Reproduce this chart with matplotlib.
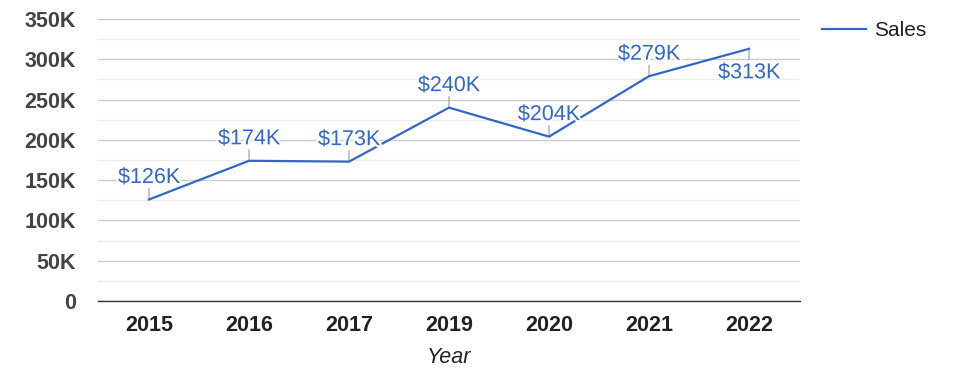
import matplotlib.pyplot as plt
from matplotlib import patheffects as pe
from matplotlib.ticker import FixedLocator

plt.rcParams['font.family'] = ['Liberation Sans', 'DejaVu Sans']

years = ['2015', '2016', '2017', '2019', '2020', '2021', '2022']
sales = [126000, 174000, 173000, 240000, 204000, 279000, 313000]
labels = ['$126K', '$174K', '$173K', '$240K', '$204K', '$279K', '$313K']
label_below = [False, False, False, False, False, False, True]
y_ticks = [0, 50000, 100000, 150000, 200000, 250000, 300000, 350000]
y_tick_labels = ['0', '50K', '100K', '150K', '200K', '250K', '300K', '350K']

blue = '#3366cc'

fig = plt.figure(figsize=(9.75, 3.78), dpi=100)
ax = fig.add_axes([98 / 975, 1 - 301 / 378, 702 / 975, 282 / 378])

x = list(range(len(years)))
ax.plot(x, sales, color=blue, lw=1.6, label='Sales', zorder=3)

# annotations with small stems, like google charts
for xi, yi, txt, below in zip(x, sales, labels, label_below):
    d = -1 if below else 1
    ax.annotate('', xy=(xi, yi), xytext=(0, 11 * d), textcoords='offset pixels',
                arrowprops=dict(arrowstyle='-', color='#999999', lw=0.8,
                                shrinkA=0, shrinkB=0), zorder=2)
    off = -24 if below else 22
    t = ax.annotate(txt, xy=(xi, yi), xytext=(0, off),
                    textcoords='offset pixels', ha='center', va='center',
                    fontsize=15.5, color=blue, zorder=4)
    t.set_path_effects([pe.withStroke(linewidth=3, foreground='white')])

ax.set_xlim(-0.51, 6.51)
ax.set_ylim(0, 350000)
ax.set_xticks(x)
ax.set_xticklabels(years, fontsize=15.5, fontweight='bold', color='#222222')
ax.set_yticks(y_ticks)
ax.set_yticklabels(y_tick_labels, fontsize=15.5, fontweight='bold', color='#444444')
ax.yaxis.set_minor_locator(FixedLocator([25000, 75000, 125000, 175000, 225000, 275000, 325000]))
ax.tick_params(axis='both', which='both', length=0)
ax.tick_params(axis='y', pad=16)
ax.tick_params(axis='x', pad=10)

ax.grid(axis='y', which='major', color='#cccccc', lw=1)
ax.grid(axis='y', which='minor', color='#ebebeb', lw=1)
ax.set_axisbelow(True)
for s in ['top', 'right', 'left']:
    ax.spines[s].set_visible(False)
ax.spines['bottom'].set_color('#333333')
ax.spines['bottom'].set_linewidth(1)

ax.set_xlabel('Year', fontsize=15.5, fontstyle='italic', color='#222222', labelpad=8)

ax.legend(loc='upper left', bbox_to_anchor=(822 / 975, 1 - 21 / 378),
          bbox_transform=fig.transFigure, frameon=False, fontsize=15,
          handlelength=2.1, handletextpad=0.4, borderpad=0, borderaxespad=0,
          labelcolor='#222222')

fig.savefig('out.png', dpi=100, facecolor='white')
